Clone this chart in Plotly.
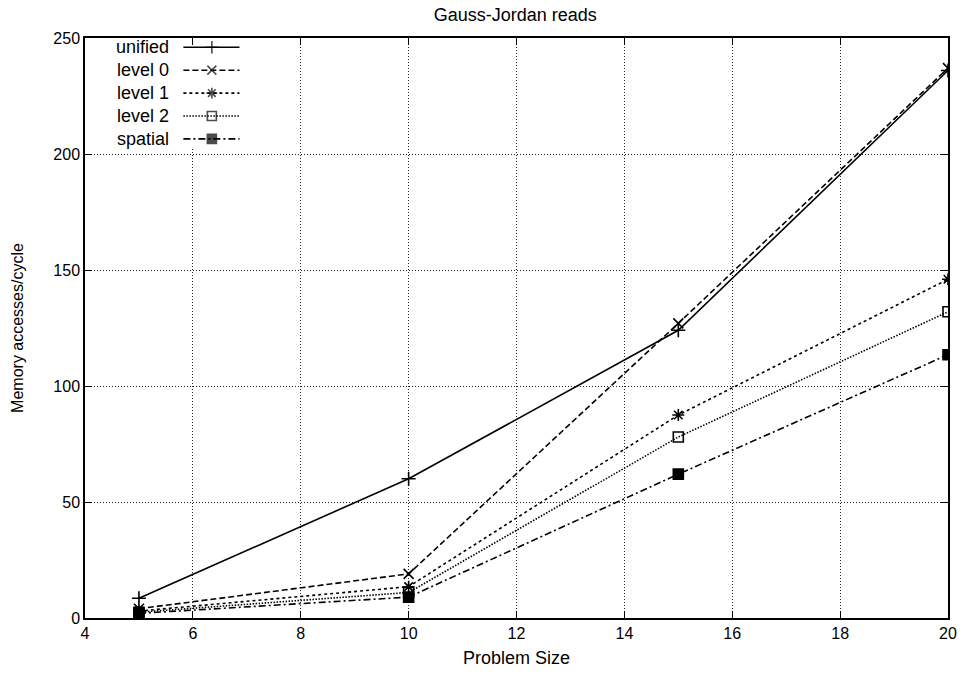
import plotly.graph_objects as go

# Problem sizes and memory accesses per cycle for each cache configuration
problem_size = [5, 10, 15, 20]
unified = [8.5, 60, 124, 236]
level0 = [4, 19, 127, 237]
level1 = [3, 13.5, 87.5, 146]
level2 = [2.5, 11, 78, 132]
spatial = [2, 9, 62, 113.5]

series_names = ["unified", "level 0", "level 1", "level 2", "spatial"]
series_values = [unified, level0, level1, level2, spatial]
dashes = ["solid", "6px,3px", "3px,3px", "1.5px,1.5px", "7px,3px,2px,3px"]
symbols = ["cross-thin-open", "x-thin-open", "asterisk-open", "square-open", "square"]

x_ticks = [4, 6, 8, 10, 12, 14, 16, 18, 20]
y_ticks = [0, 50, 100, 150, 200, 250]

FONT = "Liberation Sans, Arial, Helvetica, sans-serif"

fig = go.Figure()

for name, vals, dash, sym in zip(series_names, series_values, dashes, symbols):
    fig.add_trace(go.Scatter(
        x=problem_size, y=vals, name=name, mode="lines+markers",
        line=dict(color="black", width=1.6, dash=dash),
        marker=dict(symbol=sym, size=10, color="black",
                    line=dict(color="black", width=1.6)),
        showlegend=False,
    ))

# gnuplot-style key: label on the left, line sample with marker on the right
key_top = 0.984
key_step = 0.0395
for i, (name, dash, sym) in enumerate(zip(series_names, dashes, symbols)):
    yk = key_top - i * key_step
    fig.add_trace(go.Scatter(
        x=[0.114, 0.147, 0.179], y=[yk, yk, yk], mode="lines+markers",
        xaxis="x2", yaxis="y2",
        line=dict(color="black", width=1.6, dash=dash),
        marker=dict(symbol=["circle-open", sym, "circle-open"], size=[0, 9, 0],
                    color="black", line=dict(color="black", width=1.6)),
        showlegend=False, hoverinfo="skip",
    ))
    fig.add_annotation(
        x=0.1, y=yk, xref="x2", yref="y2", text=name, showarrow=False,
        xanchor="right", yanchor="middle",
        font=dict(family=FONT, size=18, color="black"),
    )

# white panel behind the key so gridlines do not cross it
fig.add_shape(type="rect", xref="x", yref="y", x0=4.05, x1=7.0,
              y0=203, y1=249.5,
              fillcolor="white", line=dict(width=0), layer="between")

axis_common = dict(
    showline=True, linecolor="black", linewidth=1.5, mirror="ticks",
    ticks="inside", ticklen=7, tickwidth=1.3, tickcolor="black",
    showgrid=True, gridcolor="#222222", griddash="1px,2px", gridwidth=1,
    zeroline=False, automargin=False,
    tickfont=dict(family=FONT, size=16, color="black"),
)

fig.update_layout(
    width=963, height=682,
    margin=dict(l=85, r=15, t=38, b=64),
    paper_bgcolor="white", plot_bgcolor="white",
    title=dict(text="Gauss-Jordan reads", x=0.535, xanchor="center",
               y=0.978, yanchor="middle",
               font=dict(family=FONT, size=18, color="black")),
    xaxis=dict(range=[4, 20], tickvals=x_ticks,
               title=dict(text="Problem Size", standoff=10,
                          font=dict(family=FONT, size=18, color="black")),
               **axis_common),
    yaxis=dict(range=[0, 250], tickvals=y_ticks,
               title=dict(text="Memory accesses/cycle", standoff=26,
                          font=dict(family=FONT, size=16, color="black")),
               **axis_common),
    xaxis2=dict(range=[0, 1], overlaying="x", visible=False, showgrid=False),
    yaxis2=dict(range=[0, 1], overlaying="y", visible=False, showgrid=False),
)

fig.write_html("out.html")
